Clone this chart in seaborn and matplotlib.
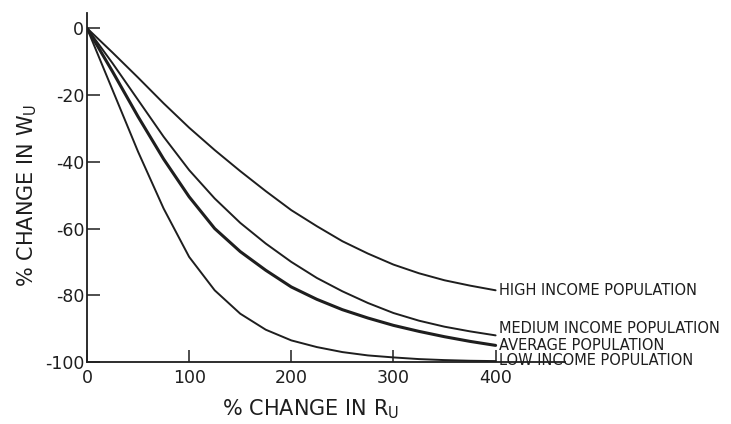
import pandas as pd
import seaborn as sns
import matplotlib.pyplot as plt

# % change in R_U
change_r = [0, 25, 50, 75, 100, 125, 150, 175, 200, 225, 250, 275, 300, 325, 350, 375, 400]

# % change in W_U
high_income = [0, -7.3, -14.8, -22.5, -29.8, -36.5, -42.8, -48.8, -54.5, -59.3, -63.8,
               -67.5, -70.8, -73.4, -75.5, -77.1, -78.5]
medium_income = [0, -10.5, -21.5, -32.5, -42.5, -51, -58.3, -64.5, -70, -74.8, -78.8,
                 -82.3, -85.3, -87.6, -89.4, -90.8, -92]
average_pop = [0, -13, -26.5, -39.2, -50.5, -60, -66.9, -72.5, -77.5, -81.2, -84.3,
               -86.8, -89, -90.8, -92.4, -93.8, -95]
low_income = [0, -18.5, -37, -54, -68.5, -78.5, -85.5, -90.3, -93.5, -95.5, -97,
              -98, -98.6, -99.1, -99.4, -99.6, -99.7]

labels = ["HIGH INCOME POPULATION", "MEDIUM INCOME POPULATION",
          "AVERAGE POPULATION", "LOW INCOME POPULATION"]
series = [high_income, medium_income, average_pop, low_income]

df = pd.concat(
    [pd.DataFrame({"r": change_r, "w": vals, "group": lab}) for lab, vals in zip(labels, series)],
    ignore_index=True,
)

sns.set_style("ticks")
plt.rcParams["font.family"] = ["DejaVu Sans"]
plt.rcParams["axes.unicode_minus"] = False

fig = plt.figure(figsize=(7.31, 4.24), dpi=100)
ax = fig.add_axes([0.119, 0.146, 0.654, 0.823])

ink = "#1e1e1e"
widths = {labels[0]: 1.4, labels[1]: 1.4, labels[2]: 2.2, labels[3]: 1.4}
for lab in labels:
    sns.lineplot(data=df[df["group"] == lab], x="r", y="w", ax=ax,
                 color=ink, linewidth=widths[lab])

# labels at the curve ends
label_y = {labels[0]: -78.5, labels[1]: -89.8, labels[2]: -95, labels[3]: -99.6}
for lab in labels:
    ax.text(403, label_y[lab], lab, fontsize=10.5, va="center", ha="left", color=ink)

ax.set_xlim(0, 468)
ax.set_ylim(-100, 4.5)
ax.set_xticks([0, 100, 200, 300, 400])
ax.set_yticks([0, -20, -40, -60, -80, -100])
ax.tick_params(direction="in", length=9, width=1.1, labelsize=12.5, colors=ink, pad=2)
ax.tick_params(axis="x", pad=5)
sns.despine(ax=ax)
for s in ["left", "bottom"]:
    ax.spines[s].set_linewidth(1.3)
    ax.spines[s].set_color(ink)

ax.set_xlabel(r"% CHANGE IN R$_\mathrm{U}$", fontsize=15, color=ink)
ax.set_ylabel(r"% CHANGE IN W$_\mathrm{U}$", fontsize=15, color=ink)
ax.xaxis.set_label_coords(0.467, -0.1)
ax.yaxis.set_label_coords(-0.1, 0.478)

fig.savefig("out.png", dpi=100)
